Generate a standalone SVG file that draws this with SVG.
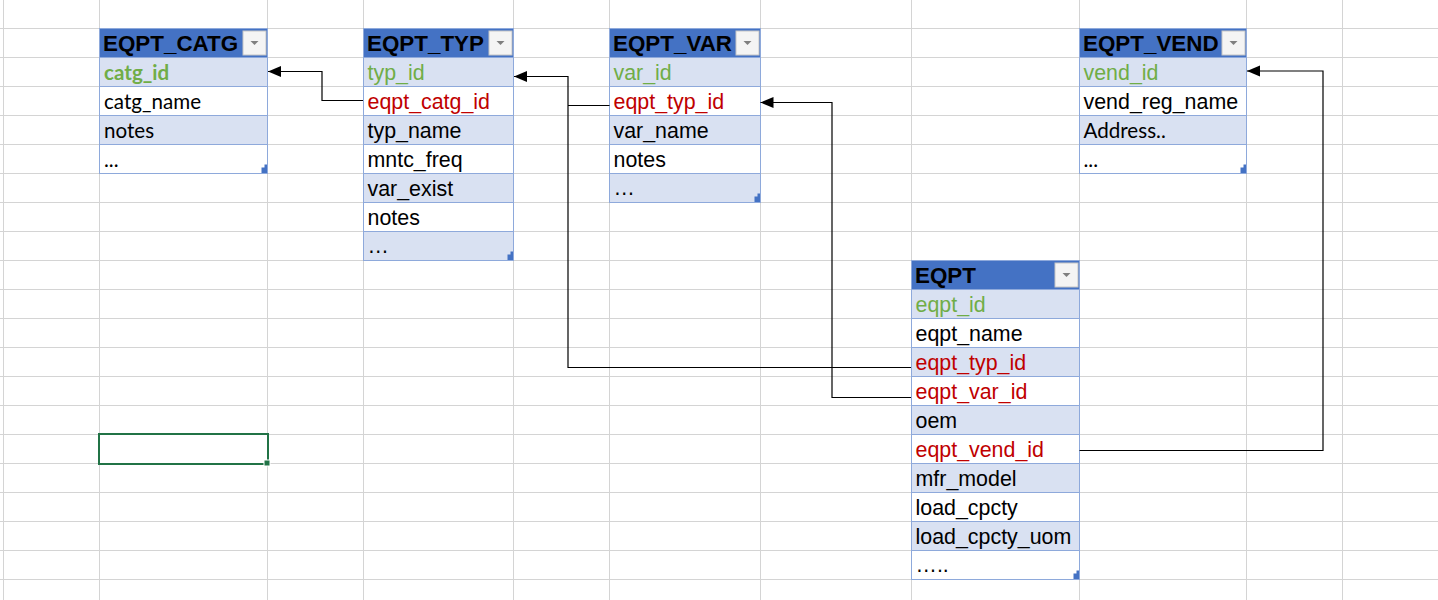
<svg xmlns="http://www.w3.org/2000/svg" xmlns:xlink="http://www.w3.org/1999/xlink" width="1438" height="600" viewBox="0 0 1438 600">
<style>
.grid line{stroke:#d4d4d4;stroke-width:1}
.hdr{fill:#4472C4}
.band{fill:#D9E1F2}
.plain{fill:#ffffff}
.sep{stroke:#8EA9DB;stroke-width:1}
.frame{fill:none;stroke:#8EA9DB;stroke-width:1}
.ht{font-family:"Liberation Sans",Arial,sans-serif;font-size:22.4px;font-weight:bold;fill:#000}
.t{font-family:"Liberation Sans",Arial,sans-serif;font-size:21.4px;fill:#000}
.c{font-family:Lato,"Liberation Sans",sans-serif;font-size:20.6px;fill:#000}
.pk{fill:#70AD47}
.fk{fill:#C00000}
.btn{fill:#f4f4f4;stroke:#c6c6c6;stroke-width:1}
.tri{fill:#7f7f7f}
.rh{fill:#4472C4}
.conn path{fill:none;stroke:#000;stroke-width:1.2}
</style>
<defs>
<marker id="arr" markerUnits="userSpaceOnUse" markerWidth="14" markerHeight="12" refX="13" refY="5.5" orient="auto">
<path d="M0,0 L13,5.5 L0,11 Z" fill="#000"/>
</marker>
<linearGradient id="bg" x1="0" y1="0" x2="0" y2="1">
<stop offset="0" stop-color="#ffffff"/>
<stop offset="1" stop-color="#e8e8e8"/>
</linearGradient>
<path id="rhp" d="M-6,-6 H-3 V-9 H-0.5 V-0.5 H-6 Z"/>
</defs>
<rect x="0" y="0" width="1438" height="600" fill="#ffffff"/>
<g class="grid">
<line x1="3.5" y1="0" x2="3.5" y2="600"/>
<line x1="99.5" y1="0" x2="99.5" y2="600"/>
<line x1="267.5" y1="0" x2="267.5" y2="600"/>
<line x1="363.5" y1="0" x2="363.5" y2="600"/>
<line x1="513.5" y1="0" x2="513.5" y2="600"/>
<line x1="609.5" y1="0" x2="609.5" y2="600"/>
<line x1="760.5" y1="0" x2="760.5" y2="600"/>
<line x1="911.5" y1="0" x2="911.5" y2="600"/>
<line x1="1079.5" y1="0" x2="1079.5" y2="600"/>
<line x1="1246.5" y1="0" x2="1246.5" y2="600"/>
<line x1="1342.5" y1="0" x2="1342.5" y2="600"/>
<line x1="0" y1="28.5" x2="1438" y2="28.5"/>
<line x1="0" y1="57.5" x2="1438" y2="57.5"/>
<line x1="0" y1="86.5" x2="1438" y2="86.5"/>
<line x1="0" y1="115.5" x2="1438" y2="115.5"/>
<line x1="0" y1="144.5" x2="1438" y2="144.5"/>
<line x1="0" y1="173.5" x2="1438" y2="173.5"/>
<line x1="0" y1="202.5" x2="1438" y2="202.5"/>
<line x1="0" y1="231.5" x2="1438" y2="231.5"/>
<line x1="0" y1="260.5" x2="1438" y2="260.5"/>
<line x1="0" y1="289.5" x2="1438" y2="289.5"/>
<line x1="0" y1="318.5" x2="1438" y2="318.5"/>
<line x1="0" y1="347.5" x2="1438" y2="347.5"/>
<line x1="0" y1="376.5" x2="1438" y2="376.5"/>
<line x1="0" y1="405.5" x2="1438" y2="405.5"/>
<line x1="0" y1="434.5" x2="1438" y2="434.5"/>
<line x1="0" y1="463.5" x2="1438" y2="463.5"/>
<line x1="0" y1="492.5" x2="1438" y2="492.5"/>
<line x1="0" y1="521.5" x2="1438" y2="521.5"/>
<line x1="0" y1="550.5" x2="1438" y2="550.5"/>
<line x1="0" y1="579.5" x2="1438" y2="579.5"/>
</g>

<g id="eqpt_catg">
<rect class="hdr" x="99.5" y="28.5" width="168" height="29"/>
<rect class="band" x="99.5" y="57.5" width="168" height="29"/>
<rect class="plain" x="99.5" y="86.5" width="168" height="29"/>
<rect class="band" x="99.5" y="115.5" width="168" height="29"/>
<rect class="plain" x="99.5" y="144.5" width="168" height="29"/>
<line class="sep" x1="99.5" y1="57.5" x2="267.5" y2="57.5"/>
<line class="sep" x1="99.5" y1="86.5" x2="267.5" y2="86.5"/>
<line class="sep" x1="99.5" y1="115.5" x2="267.5" y2="115.5"/>
<line class="sep" x1="99.5" y1="144.5" x2="267.5" y2="144.5"/>
<rect class="frame" x="99.5" y="28.5" width="168" height="145"/>
<text class="ht" x="103" y="51">EQPT_CATG</text>
<rect class="btn" x="243" y="31" width="23" height="24" fill="url(#bg)"/>
<polygon class="tri" points="250.5,41 258.5,41 254.5,45"/>
<text class="c pk" x="104" y="79.5" font-weight="bold">catg_id</text>
<text class="c" x="104" y="108.5">catg_name</text>
<text class="c" x="104" y="137.5">notes</text>
<text class="c" x="104" y="166.5">...</text>
<use href="#rhp" xlink:href="#rhp" class="rh" x="267.5" y="173.5"/>
</g>

<g id="eqpt_typ">
<rect class="hdr" x="363.5" y="28.5" width="150" height="29"/>
<rect class="band" x="363.5" y="57.5" width="150" height="29"/>
<rect class="plain" x="363.5" y="86.5" width="150" height="29"/>
<rect class="band" x="363.5" y="115.5" width="150" height="29"/>
<rect class="plain" x="363.5" y="144.5" width="150" height="29"/>
<rect class="band" x="363.5" y="173.5" width="150" height="29"/>
<rect class="plain" x="363.5" y="202.5" width="150" height="29"/>
<rect class="band" x="363.5" y="231.5" width="150" height="29"/>
<line class="sep" x1="363.5" y1="57.5" x2="513.5" y2="57.5"/>
<line class="sep" x1="363.5" y1="86.5" x2="513.5" y2="86.5"/>
<line class="sep" x1="363.5" y1="115.5" x2="513.5" y2="115.5"/>
<line class="sep" x1="363.5" y1="144.5" x2="513.5" y2="144.5"/>
<line class="sep" x1="363.5" y1="173.5" x2="513.5" y2="173.5"/>
<line class="sep" x1="363.5" y1="202.5" x2="513.5" y2="202.5"/>
<line class="sep" x1="363.5" y1="231.5" x2="513.5" y2="231.5"/>
<rect class="frame" x="363.5" y="28.5" width="150" height="232"/>
<text class="ht" x="367" y="51">EQPT_TYP</text>
<rect class="btn" x="489" y="31" width="23" height="24" fill="url(#bg)"/>
<polygon class="tri" points="496.5,41 504.5,41 500.5,45"/>
<text class="t pk" x="367.5" y="79.5">typ_id</text>
<text class="t fk" x="367.5" y="108.5">eqpt_catg_id</text>
<text class="t" x="367.5" y="137.5">typ_name</text>
<text class="t" x="367.5" y="166.5">mntc_freq</text>
<text class="t" x="367.5" y="195.5">var_exist</text>
<text class="t" x="367.5" y="224.5">notes</text>
<text class="t" x="367.5" y="253">…</text>
<use href="#rhp" xlink:href="#rhp" class="rh" x="513.5" y="260.5"/>
</g>

<g id="eqpt_var">
<rect class="hdr" x="609.5" y="28.5" width="151" height="29"/>
<rect class="band" x="609.5" y="57.5" width="151" height="29"/>
<rect class="plain" x="609.5" y="86.5" width="151" height="29"/>
<rect class="band" x="609.5" y="115.5" width="151" height="29"/>
<rect class="plain" x="609.5" y="144.5" width="151" height="29"/>
<rect class="band" x="609.5" y="173.5" width="151" height="29"/>
<line class="sep" x1="609.5" y1="57.5" x2="760.5" y2="57.5"/>
<line class="sep" x1="609.5" y1="86.5" x2="760.5" y2="86.5"/>
<line class="sep" x1="609.5" y1="115.5" x2="760.5" y2="115.5"/>
<line class="sep" x1="609.5" y1="144.5" x2="760.5" y2="144.5"/>
<line class="sep" x1="609.5" y1="173.5" x2="760.5" y2="173.5"/>
<rect class="frame" x="609.5" y="28.5" width="151" height="174"/>
<text class="ht" x="613" y="51">EQPT_VAR</text>
<rect class="btn" x="736" y="31" width="23" height="24" fill="url(#bg)"/>
<polygon class="tri" points="743.5,41 751.5,41 747.5,45"/>
<text class="t pk" x="613.5" y="79.5">var_id</text>
<text class="t fk" x="613.5" y="108.5">eqpt_typ_id</text>
<text class="t" x="613.5" y="137.5">var_name</text>
<text class="t" x="613.5" y="166.5">notes</text>
<text class="t" x="613.5" y="195">…</text>
<use href="#rhp" xlink:href="#rhp" class="rh" x="760.5" y="202.5"/>
</g>

<g id="eqpt_vend">
<rect class="hdr" x="1079.5" y="28.5" width="167" height="29"/>
<rect class="band" x="1079.5" y="57.5" width="167" height="29"/>
<rect class="plain" x="1079.5" y="86.5" width="167" height="29"/>
<rect class="band" x="1079.5" y="115.5" width="167" height="29"/>
<rect class="plain" x="1079.5" y="144.5" width="167" height="29"/>
<line class="sep" x1="1079.5" y1="57.5" x2="1246.5" y2="57.5"/>
<line class="sep" x1="1079.5" y1="86.5" x2="1246.5" y2="86.5"/>
<line class="sep" x1="1079.5" y1="115.5" x2="1246.5" y2="115.5"/>
<line class="sep" x1="1079.5" y1="144.5" x2="1246.5" y2="144.5"/>
<rect class="frame" x="1079.5" y="28.5" width="167" height="145"/>
<text class="ht" x="1083" y="51">EQPT_VEND</text>
<rect class="btn" x="1222" y="31" width="23" height="24" fill="url(#bg)"/>
<polygon class="tri" points="1229.5,41 1237.5,41 1233.5,45"/>
<text class="t pk" x="1083.5" y="79.5">vend_id</text>
<text class="t" x="1083.5" y="108.5">vend_reg_name</text>
<text class="c" x="1083.5" y="137.5">Address..</text>
<text class="c" x="1083.5" y="166.5">...</text>
<use href="#rhp" xlink:href="#rhp" class="rh" x="1246.5" y="173.5"/>
</g>

<g id="eqpt">
<rect class="hdr" x="911.5" y="260.5" width="168" height="29"/>
<rect class="band" x="911.5" y="289.5" width="168" height="29"/>
<rect class="plain" x="911.5" y="318.5" width="168" height="29"/>
<rect class="band" x="911.5" y="347.5" width="168" height="29"/>
<rect class="plain" x="911.5" y="376.5" width="168" height="29"/>
<rect class="band" x="911.5" y="405.5" width="168" height="29"/>
<rect class="plain" x="911.5" y="434.5" width="168" height="29"/>
<rect class="band" x="911.5" y="463.5" width="168" height="29"/>
<rect class="plain" x="911.5" y="492.5" width="168" height="29"/>
<rect class="band" x="911.5" y="521.5" width="168" height="29"/>
<rect class="plain" x="911.5" y="550.5" width="168" height="29"/>
<line class="sep" x1="911.5" y1="289.5" x2="1079.5" y2="289.5"/>
<line class="sep" x1="911.5" y1="318.5" x2="1079.5" y2="318.5"/>
<line class="sep" x1="911.5" y1="347.5" x2="1079.5" y2="347.5"/>
<line class="sep" x1="911.5" y1="376.5" x2="1079.5" y2="376.5"/>
<line class="sep" x1="911.5" y1="405.5" x2="1079.5" y2="405.5"/>
<line class="sep" x1="911.5" y1="434.5" x2="1079.5" y2="434.5"/>
<line class="sep" x1="911.5" y1="463.5" x2="1079.5" y2="463.5"/>
<line class="sep" x1="911.5" y1="492.5" x2="1079.5" y2="492.5"/>
<line class="sep" x1="911.5" y1="521.5" x2="1079.5" y2="521.5"/>
<line class="sep" x1="911.5" y1="550.5" x2="1079.5" y2="550.5"/>
<rect class="frame" x="911.5" y="260.5" width="168" height="319"/>
<text class="ht" x="915" y="283">EQPT</text>
<rect class="btn" x="1055" y="263" width="23" height="24" fill="url(#bg)"/>
<polygon class="tri" points="1062.5,273 1070.5,273 1066.5,277"/>
<text class="t pk" x="915.5" y="311.5">eqpt_id</text>
<text class="t" x="915.5" y="340.5">eqpt_name</text>
<text class="t fk" x="915.5" y="369.5">eqpt_typ_id</text>
<text class="t fk" x="915.5" y="398.5">eqpt_var_id</text>
<text class="t" x="915.5" y="427.5">oem</text>
<text class="t fk" x="915.5" y="456.5">eqpt_vend_id</text>
<text class="t" x="915.5" y="485.5">mfr_model</text>
<text class="t" x="915.5" y="514.5">load_cpcty</text>
<text class="t" x="915.5" y="543.5">load_cpcty_uom</text>
<text class="t" x="915.5" y="572">…..</text>
<use href="#rhp" xlink:href="#rhp" class="rh" x="1079.5" y="579.5"/>
</g>

<g id="selected_cell">
<rect x="99" y="434" width="169" height="30" fill="none" stroke="#217346" stroke-width="2"/>
<rect x="264" y="460" width="6" height="6" fill="#217346" stroke="#ffffff" stroke-width="1"/>
</g>

<g class="conn" id="connectors">
<path d="M363,100.5 H322 V71.5 H268" marker-end="url(#arr)"/>
<path d="M911,367.5 H568 V76.5 H514" marker-end="url(#arr)"/>
<path d="M609.5,105.5 H568"/>
<path d="M911,397.5 H832 V102.5 H760.5" marker-end="url(#arr)"/>
<path d="M1079.5,450.5 H1323 V71 H1247" marker-end="url(#arr)"/>
</g>
</svg>
